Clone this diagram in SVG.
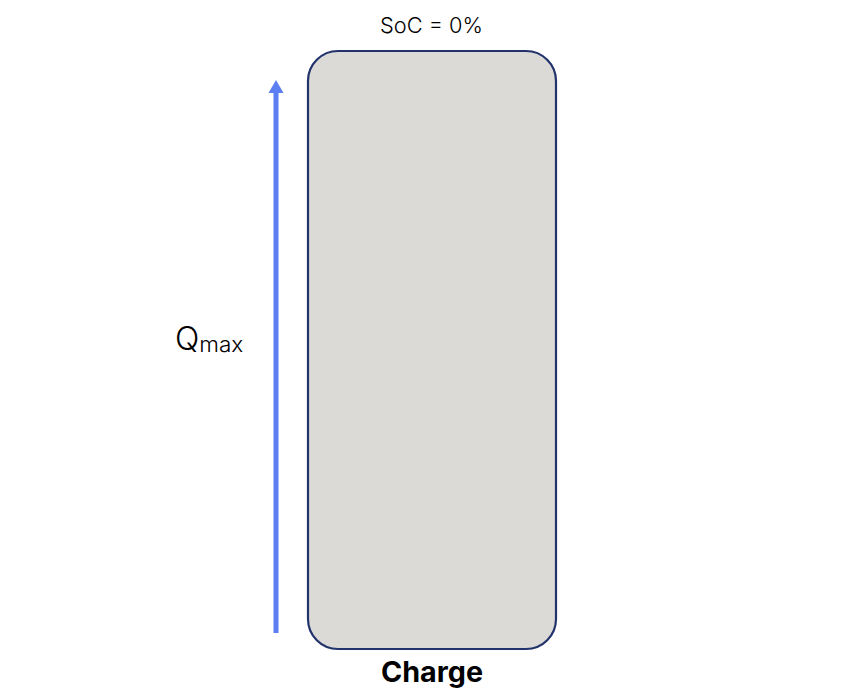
<svg xmlns="http://www.w3.org/2000/svg" width="864" height="700" viewBox="0 0 864 700">
<style>
.t{font-family:"Inter","Liberation Sans",sans-serif;fill:#000}
</style>
<rect width="864" height="700" fill="#fff"/>
<g id="cell">
<rect x="308" y="51" width="248" height="598" rx="30" ry="30" fill="#dbdad7" stroke="#22336b" stroke-width="2.2"/>
</g>
<g id="connectors">
<line x1="276" y1="633" x2="276" y2="92" stroke="#5b7ff2" stroke-width="5"/>
<polygon points="276,80 283.5,93 268.5,93" fill="#5b7ff2"/>
</g>
<g id="labels">
<text class="t" x="380" y="33" font-size="22" font-weight="300" textLength="103" lengthAdjust="spacingAndGlyphs">SoC = 0%</text>
<text class="t" x="175" y="350" font-size="32" font-weight="300">Q<tspan font-size="21" dy="2" textLength="44" lengthAdjust="spacingAndGlyphs">max</tspan></text>
<text class="t" x="381" y="682" font-size="28" font-weight="bold" textLength="102" lengthAdjust="spacingAndGlyphs">Charge</text>
</g>
</svg>
